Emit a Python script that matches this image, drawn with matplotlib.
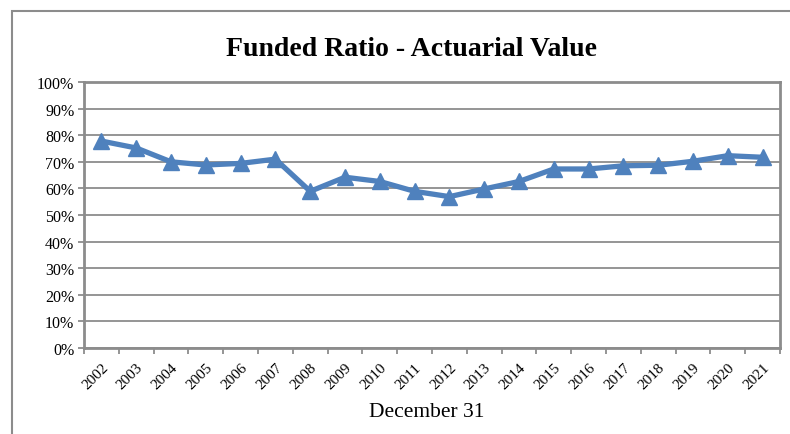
import matplotlib.pyplot as plt
from matplotlib.patches import Rectangle
from matplotlib.ticker import PercentFormatter, FixedLocator
import numpy as np

plt.rcParams['font.family'] = ['Liberation Serif', 'DejaVu Serif']

# data
years = [str(y) for y in range(2002, 2022)]
funded_ratio = [77.8, 75.2, 70.0, 68.8, 69.4, 71.0, 58.9, 64.2, 62.6, 58.9,
                56.9, 59.8, 62.6, 67.3, 67.3, 68.5, 68.7, 70.2, 72.3, 71.7]

fig = plt.figure(figsize=(7.9, 4.35), dpi=100)

# outer chart frame (runs off the right/bottom of the picture)
fig.patches.append(Rectangle((12 / 790, -0.1), 1.2, (435 - 12) / 435 + 0.1,
                             transform=fig.transFigure, fill=False,
                             edgecolor='#8c8c8c', linewidth=1.5))

ax = fig.add_axes([84 / 790, 1 - 349 / 435, (780 - 84) / 790, (349 - 83) / 435])

x = np.arange(len(years))
ax.plot(x, funded_ratio, color='#4F81BD', linewidth=3.8, marker='^',
        markersize=11, markerfacecolor='#4F81BD', markeredgecolor='#4F81BD',
        solid_joinstyle='round', zorder=3)

ax.set_xlim(-0.5, len(years) - 0.5)
ax.set_ylim(0, 100)
ax.set_yticks(np.arange(0, 101, 10))
ax.yaxis.set_major_formatter(PercentFormatter(decimals=0))
ax.grid(axis='y', color='#8c8c8c', linewidth=1.3)
ax.set_axisbelow(True)

# category labels centred, tick marks between categories
ax.set_xticks(x)
ax.set_xticklabels(years, rotation=45, ha='right', va='top',
                   rotation_mode='anchor', fontsize=11)
ax.xaxis.set_minor_locator(FixedLocator(np.arange(-0.5, len(years), 1)))
ax.tick_params(axis='x', which='major', length=0, pad=9)
ax.tick_params(axis='x', which='minor', length=4, width=1.3, color='#8c8c8c')
ax.tick_params(axis='y', length=4, width=1.3, color='#8c8c8c', labelsize=11.5, pad=3)

for s in ax.spines.values():
    s.set_color('#8c8c8c')
    s.set_linewidth(2)

fig.text(412 / 790, 1 - 50 / 435, 'Funded Ratio - Actuarial Value',
         ha='center', va='center', fontsize=20, fontweight='bold')
fig.text(427 / 790, 1 - 413 / 435, 'December 31', ha='center', va='center',
         fontsize=15.5)

fig.savefig('out.png', dpi=100)
